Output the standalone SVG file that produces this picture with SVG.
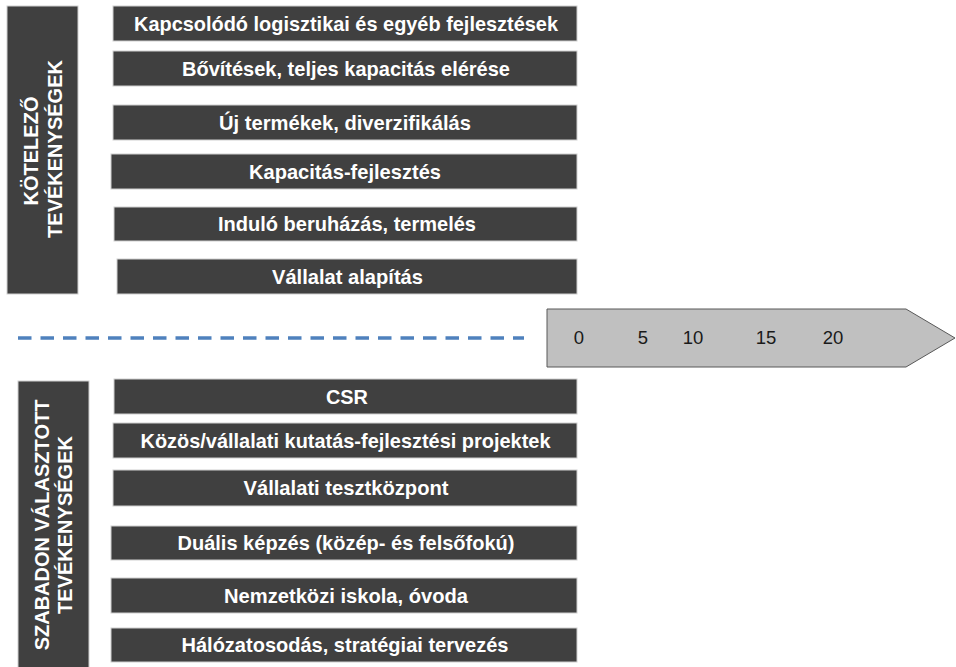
<svg xmlns="http://www.w3.org/2000/svg" width="956" height="667" viewBox="0 0 956 667">
<style>
.bar{fill:#404040;stroke:#cfcfcf;stroke-width:1}
.lbl{fill:#404040;stroke:#cfcfcf;stroke-width:1}
.t{font-family:"Liberation Sans",Arial,sans-serif;font-weight:bold;font-size:20.5px;fill:#ffffff;text-anchor:middle}
.v{font-family:"Liberation Sans",Arial,sans-serif;font-weight:bold;font-size:20px;fill:#ffffff;text-anchor:middle}
.n{font-family:"Liberation Sans",Arial,sans-serif;font-size:18.5px;fill:#1a1a1a;text-anchor:middle}
</style>
<rect width="956" height="667" fill="#ffffff"/>
<g id="label-kotelezo">
<rect class="lbl" x="7" y="6" width="71" height="288"/>
<text class="v" transform="translate(37.5,151) rotate(-90)">KÖTELEZŐ</text>
<text class="v" transform="translate(62,149) rotate(-90)">TEVÉKENYSÉGEK</text>
</g>
<g id="bar-t1"><rect class="bar" x="113" y="6" width="464" height="35"/><text class="t" x="346" y="30.5" textLength="424" lengthAdjust="spacingAndGlyphs">Kapcsolódó logisztikai és egyéb fejlesztések</text></g>
<g id="bar-t2"><rect class="bar" x="113" y="51" width="464" height="35"/><text class="t" x="346" y="75.5" textLength="328" lengthAdjust="spacingAndGlyphs">Bővítések, teljes kapacitás elérése</text></g>
<g id="bar-t3"><rect class="bar" x="113" y="105" width="464" height="35"/><text class="t" x="345" y="129.5" textLength="252" lengthAdjust="spacingAndGlyphs">Új termékek, diverzifikálás</text></g>
<g id="bar-t4"><rect class="bar" x="111" y="154" width="466" height="35"/><text class="t" x="345" y="178.5" textLength="192" lengthAdjust="spacingAndGlyphs">Kapacitás-fejlesztés</text></g>
<g id="bar-t5"><rect class="bar" x="114" y="207" width="463" height="34"/><text class="t" x="347" y="231" textLength="258" lengthAdjust="spacingAndGlyphs">Induló beruházás, termelés</text></g>
<g id="bar-t6"><rect class="bar" x="117" y="259" width="460" height="35"/><text class="t" x="347.5" y="283.5" textLength="151" lengthAdjust="spacingAndGlyphs">Vállalat alapítás</text></g>
<g id="connectors">
<line x1="18" y1="338" x2="524" y2="338" stroke="#4f81bd" stroke-width="3.5" stroke-dasharray="13.5 9"/>
</g>
<g id="timeline">
<polygon points="547,309 906,309 955,338 906,367 547,367" fill="#c0c0c0" stroke="#595959" stroke-width="1"/>
<text class="n" x="579" y="344">0</text>
<text class="n" x="643" y="344">5</text>
<text class="n" x="693" y="344">10</text>
<text class="n" x="766" y="344">15</text>
<text class="n" x="833" y="344">20</text>
</g>
<g id="label-szabadon">
<rect class="lbl" x="18" y="381" width="71" height="290"/>
<text class="v" transform="translate(48.5,525) rotate(-90)">SZABADON VÁLASZTOTT</text>
<text class="v" transform="translate(72,525) rotate(-90)">TEVÉKENYSÉGEK</text>
</g>
<g id="bar-b1"><rect class="bar" x="114" y="379" width="463" height="35"/><text class="t" x="347" y="403.5" textLength="42" lengthAdjust="spacingAndGlyphs">CSR</text></g>
<g id="bar-b2"><rect class="bar" x="113" y="423" width="464" height="35"/><text class="t" x="345.5" y="447.5" textLength="410" lengthAdjust="spacingAndGlyphs">Közös/vállalati kutatás-fejlesztési projektek</text></g>
<g id="bar-b3"><rect class="bar" x="113" y="470" width="464" height="36"/><text class="t" x="346" y="495" textLength="205" lengthAdjust="spacingAndGlyphs">Vállalati tesztközpont</text></g>
<g id="bar-b4"><rect class="bar" x="111" y="526" width="466" height="34"/><text class="t" x="346" y="550" textLength="337" lengthAdjust="spacingAndGlyphs">Duális képzés (közép- és felsőfokú)</text></g>
<g id="bar-b5"><rect class="bar" x="111" y="578" width="466" height="35"/><text class="t" x="346" y="602.5" textLength="244" lengthAdjust="spacingAndGlyphs">Nemzetközi iskola, óvoda</text></g>
<g id="bar-b6"><rect class="bar" x="111" y="628" width="466" height="34"/><text class="t" x="345" y="652" textLength="327" lengthAdjust="spacingAndGlyphs">Hálózatosodás, stratégiai tervezés</text></g>
</svg>
